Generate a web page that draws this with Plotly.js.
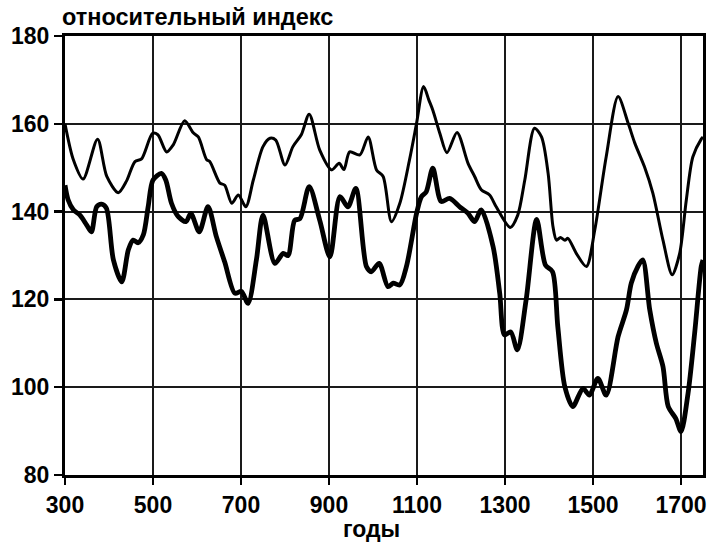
<!DOCTYPE html>
<html>
<head>
<meta charset="utf-8">
<script src="https://cdn.plot.ly/plotly-3.0.1.min.js"></script>
<style>html,body{margin:0;padding:0;background:#fff;}</style>
</head>
<body>
<div id="chart" style="width:710px;height:543px;"></div>
<script>
// Upper (thin) series
var upperYears = [300,319,341,374,395,421,440,459,474,499,511,531,546,572,591,603,622,629,652,663,679,694,711,728,750,766,779,800,818,837,855,879,906,923,934,947,970,989,1008,1023,1042,1061,1083,1099,1115,1127,1136,1152,1168,1191,1216,1231,1246,1265,1280,1312,1329,1345,1367,1383,1398,1409,1417,1426,1436,1443,1462,1485,1504,1530,1557,1580,1595,1617,1636,1659,1680,1697,1712,1727,1746,1750];
var upperValues = [160,151.8,147.4,156.5,148,144.3,147,151.4,152,157.8,157.5,153.6,155.2,160.7,158,157,151.8,151.4,146.5,146,141.9,143.8,141.1,147.2,154.8,156.7,156.3,150.6,154.8,157.5,162.2,154,149.5,151,149.6,153.6,152.9,157,149.5,148,137.7,141.9,151.8,160.1,168.5,165.4,163.1,157.8,153.4,158,151,148,145,143.8,141.1,136.4,139.2,147.2,159,157,148.7,136.6,133.5,134.1,133.5,133.9,130.5,127.5,135.8,152.5,166.2,160.1,155.6,150.2,144.2,133.5,125.6,130.5,142.6,152.5,156.5,157];

// Lower (thick) series
var lowerYears = [300,307,319,334,349,360,372,383,394,410,429,444,455,466,478,489,500,519,529,542,557,575,586,605,625,644,663,686,701,716,735,750,777,796,807,822,834,855,879,902,925,943,961,985,996,1014,1034,1046,1061,1076,1099,1110,1121,1136,1155,1174,1197,1216,1231,1246,1273,1288,1299,1313,1328,1348,1372,1392,1408,1420,1436,1454,1477,1492,1511,1530,1557,1576,1587,1602,1613,1629,1644,1659,1671,1688,1700,1716,1731,1746,1750];
var lowerValues = [146,142.7,140.4,139.2,137,135.4,141.1,141.7,140.8,129,124,131.3,133.5,132.9,134.7,141.1,147.2,148.7,147.2,141.9,138.9,137.7,139.6,135.4,141.1,134.3,128.5,121.4,121.8,119.1,129,139.2,128.2,130.5,130,138,138.4,145.7,138,129.7,143.4,141.1,145.3,127.5,126.3,128.2,122.9,123.7,123.3,127.5,139.6,143.4,144.5,149.9,142.3,143,141.1,139.6,137.7,140.4,132,121.4,111.9,112.6,108.5,119.9,138.2,127.8,126.3,113.8,100.1,95.6,99.7,98.2,102,98.2,111.5,117.6,123.7,127.5,129,117.6,110,104.7,95.6,92.9,89.9,98.6,112.3,127.5,129];

var xTicks = [300,500,700,900,1100,1300,1500,1700];
var yTicks = [80,100,120,140,160,180];
var yTitle = "относительный индекс";
var xTitle = "годы";

var fontFam = "Liberation Sans, Arial, sans-serif";

var traces = [
  {x: upperYears, y: upperValues, type: 'scatter', mode: 'lines',
   line: {color: '#000', width: 3, shape: 'spline', smoothing: 0.8}, hoverinfo: 'skip'},
  {x: lowerYears, y: lowerValues, type: 'scatter', mode: 'lines',
   line: {color: '#000', width: 4.8, shape: 'spline', smoothing: 0.8}, hoverinfo: 'skip'}
];

var axisCommon = {
  showgrid: true, gridcolor: '#1a1a1a', gridwidth: 1.8,
  showline: true, linecolor: '#000', linewidth: 3, mirror: true,
  ticks: 'outside', tickcolor: '#000', tickwidth: 2.5,
  zeroline: false,
  tickfont: {family: fontFam, size: 23, color: '#000', weight: 'bold'}
};

var layout = {
  width: 710, height: 543,
  margin: {l: 65, r: 7, t: 36, b: 68},
  paper_bgcolor: '#fff', plot_bgcolor: '#fff',
  showlegend: false,
  xaxis: Object.assign({}, axisCommon, {
    range: [300, 1750], tickvals: xTicks, ticktext: xTicks.map(String), ticklen: 7
  }),
  yaxis: Object.assign({}, axisCommon, {
    range: [80, 180], tickvals: yTicks, ticktext: yTicks.map(String), ticklen: 8
  }),
  annotations: [
    {text: yTitle, xref: 'paper', yref: 'paper', x: 0, y: 1, xanchor: 'left', yanchor: 'middle',
     xshift: -5, yshift: 19, showarrow: false,
     font: {family: fontFam, size: 23.5, color: '#000', weight: 'bold'}},
    {text: xTitle, xref: 'paper', yref: 'paper', x: 0.481, y: 0, xanchor: 'center', yanchor: 'middle',
     yshift: -54, showarrow: false,
     font: {family: fontFam, size: 23, color: '#000', weight: 'bold'}}
  ]
};

Plotly.newPlot('chart', traces, layout, {staticPlot: true, displayModeBar: false});
</script>
</body>
</html>
